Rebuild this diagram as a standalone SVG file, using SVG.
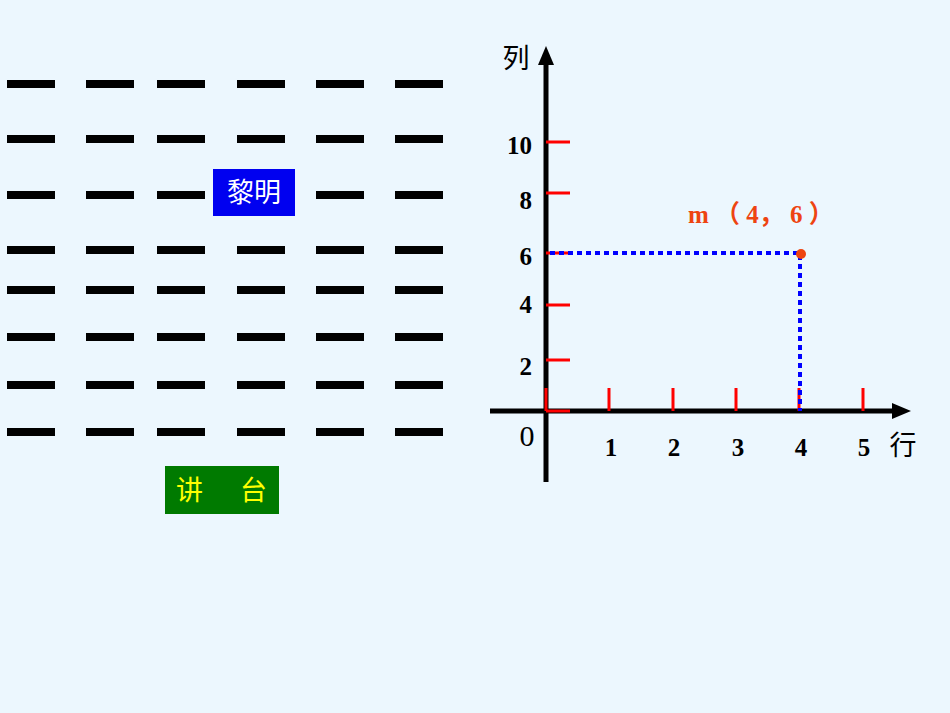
<svg xmlns="http://www.w3.org/2000/svg" width="950" height="713" viewBox="0 0 950 713">
<style>
.d{fill:#000}
.t{stroke:#f00;stroke-width:3}
.n{font-family:"Liberation Serif",serif;font-weight:bold;font-size:25px;fill:#000}
.c{font-family:"Noto Sans CJK SC",sans-serif}
</style>
<defs><marker id="ah" markerWidth="6" markerHeight="6" refX="3" refY="3" orient="auto" markerUnits="userSpaceOnUse" viewBox="0 0 6 6"><path d="M0,0 L6,3 L0,6z" fill="#000"/></marker></defs>
<rect width="950" height="713" fill="#ecf7fe"/>
<g id="seats">
<g id="r1"><rect class="d" x="7" y="80" width="48" height="8"/><rect class="d" x="86" y="80" width="48" height="8"/><rect class="d" x="157" y="80" width="48" height="8"/><rect class="d" x="237" y="80" width="48" height="8"/><rect class="d" x="316" y="80" width="48" height="8"/><rect class="d" x="395" y="80" width="48" height="8"/></g>
<g id="r2"><rect class="d" x="7" y="135" width="48" height="8"/><rect class="d" x="86" y="135" width="48" height="8"/><rect class="d" x="157" y="135" width="48" height="8"/><rect class="d" x="237" y="135" width="48" height="8"/><rect class="d" x="316" y="135" width="48" height="8"/><rect class="d" x="395" y="135" width="48" height="8"/></g>
<g id="r3"><rect class="d" x="7" y="191" width="48" height="8"/><rect class="d" x="86" y="191" width="48" height="8"/><rect class="d" x="157" y="191" width="48" height="8"/><rect class="d" x="316" y="191" width="48" height="8"/><rect class="d" x="395" y="191" width="48" height="8"/></g>
<g id="r4"><rect class="d" x="7" y="246" width="48" height="8"/><rect class="d" x="86" y="246" width="48" height="8"/><rect class="d" x="157" y="246" width="48" height="8"/><rect class="d" x="237" y="246" width="48" height="8"/><rect class="d" x="316" y="246" width="48" height="8"/><rect class="d" x="395" y="246" width="48" height="8"/></g>
<g id="r5"><rect class="d" x="7" y="286" width="48" height="8"/><rect class="d" x="86" y="286" width="48" height="8"/><rect class="d" x="157" y="286" width="48" height="8"/><rect class="d" x="237" y="286" width="48" height="8"/><rect class="d" x="316" y="286" width="48" height="8"/><rect class="d" x="395" y="286" width="48" height="8"/></g>
<g id="r6"><rect class="d" x="7" y="333" width="48" height="8"/><rect class="d" x="86" y="333" width="48" height="8"/><rect class="d" x="157" y="333" width="48" height="8"/><rect class="d" x="237" y="333" width="48" height="8"/><rect class="d" x="316" y="333" width="48" height="8"/><rect class="d" x="395" y="333" width="48" height="8"/></g>
<g id="r7"><rect class="d" x="7" y="381" width="48" height="8"/><rect class="d" x="86" y="381" width="48" height="8"/><rect class="d" x="157" y="381" width="48" height="8"/><rect class="d" x="237" y="381" width="48" height="8"/><rect class="d" x="316" y="381" width="48" height="8"/><rect class="d" x="395" y="381" width="48" height="8"/></g>
<g id="r8"><rect class="d" x="7" y="428" width="48" height="8"/><rect class="d" x="86" y="428" width="48" height="8"/><rect class="d" x="157" y="428" width="48" height="8"/><rect class="d" x="237" y="428" width="48" height="8"/><rect class="d" x="316" y="428" width="48" height="8"/><rect class="d" x="395" y="428" width="48" height="8"/></g>
</g>
<g id="liming"><rect x="213" y="169" width="82" height="47" fill="#0000f0"/><text x="254" y="202" text-anchor="middle" class="c" font-size="27" fill="#fff">黎明</text></g>
<g id="jiangtai"><rect x="165" y="466" width="114" height="48" fill="#007a00"/><text x="176" y="500" class="c" font-size="27" fill="#ffff00">讲</text><text x="240" y="500" class="c" font-size="27" fill="#ffff00">台</text></g>
<g id="connectors">
<line x1="546" y1="482" x2="546" y2="62" stroke="#000" stroke-width="5"/>
<path d="M546,46 L538,65 L554,65z" fill="#000"/>
<line x1="490" y1="411" x2="895" y2="411" stroke="#000" stroke-width="5"/>
<path d="M911,411 L892,403 L892,419z" fill="#000"/>
<line class="t" x1="546" y1="142" x2="570" y2="142"/><line class="t" x1="546" y1="193" x2="570" y2="193"/><line class="t" x1="546" y1="253" x2="570" y2="253"/><line class="t" x1="546" y1="305" x2="570" y2="305"/><line class="t" x1="546" y1="360" x2="570" y2="360"/><line class="t" x1="546" y1="411" x2="570" y2="411"/>
<line class="t" x1="546" y1="388" x2="546" y2="411"/><line class="t" x1="609" y1="388" x2="609" y2="411"/><line class="t" x1="673" y1="388" x2="673" y2="411"/><line class="t" x1="736" y1="388" x2="736" y2="411"/><line class="t" x1="799" y1="388" x2="799" y2="411"/><line class="t" x1="863" y1="388" x2="863" y2="411"/>
<path d="M550,253 H800 V411" fill="none" stroke="#0000ff" stroke-width="4" stroke-dasharray="5,4"/>
<circle cx="801" cy="254" r="5" fill="#ee4411"/>
</g>
<g id="labels">
<text x="516" y="68" text-anchor="middle" class="c" font-size="27">列</text>
<text x="903" y="455" text-anchor="middle" class="c" font-size="27">行</text>
<text class="n" x="532" y="154" text-anchor="end">10</text>
<text class="n" x="532" y="209" text-anchor="end">8</text>
<text class="n" x="532" y="265" text-anchor="end">6</text>
<text class="n" x="532" y="313" text-anchor="end">4</text>
<text class="n" x="532" y="375" text-anchor="end">2</text>
<text x="527" y="446" text-anchor="middle" font-family="Liberation Serif,serif" font-size="30">0</text>
<text class="n" x="611" y="456" text-anchor="middle">1</text>
<text class="n" x="674" y="456" text-anchor="middle">2</text>
<text class="n" x="738" y="456" text-anchor="middle">3</text>
<text class="n" x="801" y="456" text-anchor="middle">4</text>
<text class="n" x="864" y="456" text-anchor="middle">5</text>
<text x="688" y="223" font-family="Liberation Serif,'Noto Sans CJK SC',serif" font-weight="bold" font-size="25" fill="#ee4411" xml:space="preserve">m （ 4， 6 ）</text>
</g>
</svg>
